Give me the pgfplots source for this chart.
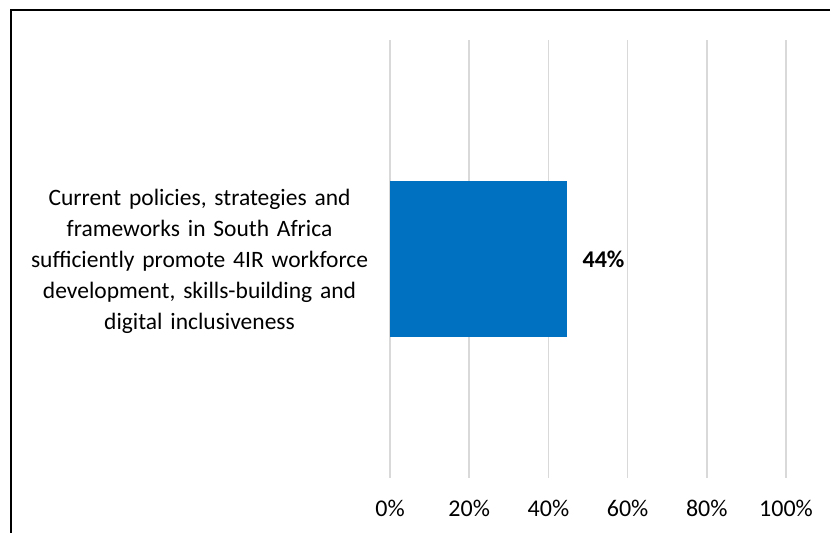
\documentclass[border=0pt]{standalone}
\usepackage{pgfplots}
\pgfplotsset{compat=1.18}
\usepackage{fontspec}
\setmainfont{Carlito}[WordSpace=0.75]
\definecolor{barblue}{HTML}{0070C0}
\definecolor{gridgray}{HTML}{D9D9D9}
\begin{document}
\begin{tikzpicture}[x=1bp,y=1bp]
\useasboundingbox (0,0) rectangle (830,533);
\draw[line width=2bp] (11,-2) -- (11,523) -- (834,523);
\begin{axis}[
  at={(390bp,55bp)}, anchor=south west,
  scale only axis, width=396bp, height=438bp,
  xbar, bar width=156bp,
  xmin=0, xmax=100, ymin=0.5, ymax=1.5,
  axis line style={draw=none},
  tick style={draw=none},
  xmajorgrids, grid style={color=gridgray, line width=1.6bp},
  xtick={0,20,40,60,80,100},
  xticklabels={0\%,20\%,40\%,60\%,80\%,100\%},
  xticklabel style={font=\fontsize{24bp}{31bp}\selectfont, inner sep=0pt, anchor=north, yshift=-22bp},
  ytick={1},
  yticklabel={Current policies{,} strategies and\\frameworks in South Africa\\sufficiently promote 4IR workforce\\development{,} skills-building and\\digital inclusiveness},
  yticklabel style={font=\fontsize{23.5bp}{31bp}\selectfont, inner sep=0pt, text width=370bp, align=center, anchor=east, yshift=-2bp, xshift=-1bp},
  nodes near coords={\textbf{44\%}},
  nodes near coords style={anchor=west, inner sep=0pt, xshift=15bp, font=\fontsize{24bp}{31bp}\selectfont, text=black},
]
\addplot[fill=barblue, draw=none] coordinates {(44.8,1)};
\end{axis}
\end{tikzpicture}
\end{document}
